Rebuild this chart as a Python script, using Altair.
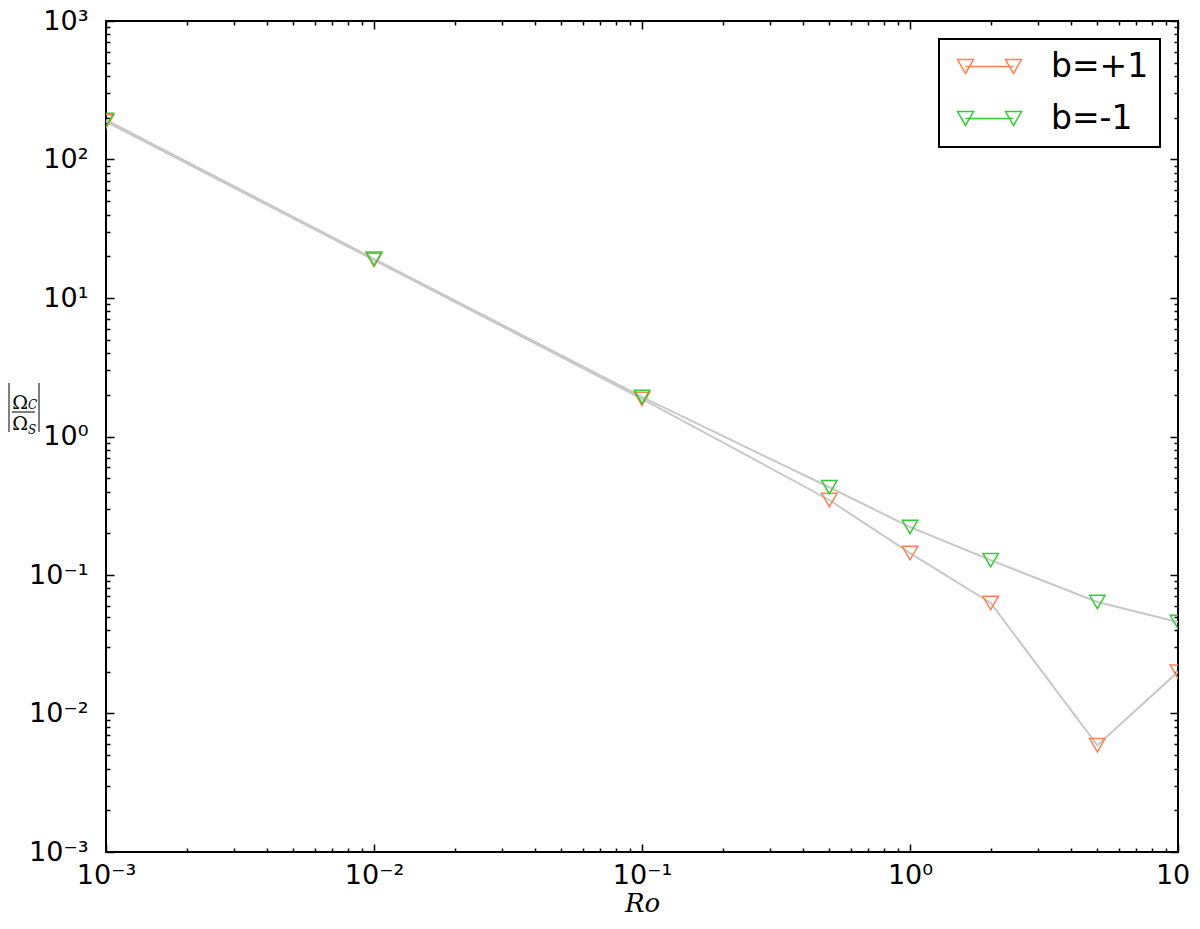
import altair as alt
import pandas as pd

# ---- data ----
ro = [0.001, 0.01, 0.1, 0.5, 1, 2, 5, 10]
b_plus = [188, 18.8, 1.87, 0.348, 0.144, 0.0628, 0.0059, 0.020]
b_minus = [193, 19.2, 1.93, 0.43, 0.222, 0.128, 0.0638, 0.0458]
series_names = ["b=+1", "b=-1"]
series_colors = ["#ff7f50", "#33cc33"]

x_decades = [1e-3, 1e-2, 1e-1, 1, 10]
y_decades = [1e-3, 1e-2, 1e-1, 1, 10, 100, 1000]
minor_mult = [2, 3, 4, 5, 6, 7, 8, 9]
x_minor = [m * d for d in x_decades[:-1] for m in minor_mult]
y_minor = [m * d for d in y_decades[:-1] for m in minor_mult]

W, H = 1072, 831

df = pd.DataFrame({
    "Ro": ro + ro,
    "val": b_plus + b_minus,
    "series": [series_names[0]] * len(ro) + [series_names[1]] * len(ro),
})

xs = alt.Scale(type="log", domain=[1e-3, 10], nice=False)
ys = alt.Scale(type="log", domain=[1e-3, 1e3], nice=False)

label_expr = ("'10' + (datum.value < 1 ? '⁻' : '') + "
              "['⁰','¹','²','³'][round(abs(log(datum.value)/LN10))]")

# label axes (no ticks)
ax_x_lab = alt.Axis(orient="bottom", values=x_decades, labelExpr=label_expr, ticks=False,
                    domain=False, grid=False, labelFont="DejaVu Sans", labelFontSize=27,
                    labelColor="black", labelPadding=10, labelFlush=False,
                    title="Ro", titleFont="DejaVu Serif", titleFontStyle="italic",
                    titleFontWeight="normal", titleFontSize=26, titleColor="black",
                    titlePadding=2)
ax_y_lab = alt.Axis(orient="left", values=y_decades, labelExpr=label_expr, ticks=False,
                    domain=False, grid=False, labelFont="DejaVu Sans", labelFontSize=27,
                    labelColor="black", labelPadding=18, labelFlush=False, title=None)


def tick_axis(orient, offset, values, size):
    return alt.Axis(orient=orient, offset=offset, values=values, tickSize=size,
                    tickColor="black", tickWidth=1.5, labels=False, domain=False,
                    grid=False, title=None)


def ghost(ax_x, ax_y):
    return alt.Chart(df).mark_point(opacity=0).encode(
        x=alt.X("Ro:Q", scale=xs, axis=ax_x),
        y=alt.Y("val:Q", scale=ys, axis=ax_y),
    )


labels_layer = ghost(ax_x_lab, ax_y_lab)
ticks_major_in = ghost(tick_axis("top", -H, x_decades, 8), tick_axis("right", -W, y_decades, 8))
ticks_minor_in = ghost(tick_axis("top", -H, x_minor, 4), tick_axis("right", -W, y_minor, 4))
ticks_major_out = ghost(tick_axis("bottom", -H, x_decades, 8), tick_axis("left", -W, y_decades, 8))
ticks_minor_out = ghost(tick_axis("bottom", -H, x_minor, 4), tick_axis("left", -W, y_minor, 4))

lines = alt.Chart(df).mark_line(color="#c8c8c8", strokeWidth=2, clip=True).encode(
    x=alt.X("Ro:Q", scale=xs, axis=None),
    y=alt.Y("val:Q", scale=ys, axis=None),
    detail="series:N",
)

legend_path = ("M-4,-0.866L-2,-0.866L-3,0.866Z M-3,0L3,0 "
               "M2,-0.866L4,-0.866L3,0.866Z")

points = alt.Chart(df).mark_point(shape="triangle-down", filled=False, size=240,
                                  strokeWidth=1.5, clip=True, opacity=1).encode(
    x=alt.X("Ro:Q", scale=xs, axis=None),
    y=alt.Y("val:Q", scale=ys, axis=None),
    color=alt.Color("series:N",
                    scale=alt.Scale(domain=series_names, range=series_colors),
                    legend=alt.Legend(title=None, orient="top-right", offset=18,
                                      symbolType=legend_path, symbolSize=256,
                                      symbolStrokeWidth=1.5, symbolFillColor="transparent",
                                      symbolOffset=23, labelOffset=45,
                                      labelFont="DejaVu Sans", labelFontSize=33,
                                      labelColor="black", rowPadding=18, padding=11,
                                      strokeColor="black", fillColor="white",
                                      labelLimit=300)),
)

# y-axis title |Ω_C / Ω_S| drawn as a small fraction
def txt(s, x, y, size, style="normal", align="center"):
    return alt.Chart(pd.DataFrame({"t": [s]})).mark_text(
        font="DejaVu Serif", fontSize=size, fontStyle=style, align=align,
        baseline="alphabetic", color="black"
    ).encode(x=alt.value(x), y=alt.value(y), text="t:N")


def rule(x, x2, y, y2):
    return alt.Chart(pd.DataFrame({"a": [0]})).mark_rule(color="black", strokeWidth=1).encode(
        x=alt.value(x), x2=alt.value(x2), y=alt.value(y), y2=alt.value(y2))


ytitle = alt.layer(
    rule(-97, -97, 362, 411),
    rule(-67, -67, 362, 411),
    rule(-94, -71, 391, 391),
    txt("Ω", -86, 388, 19),
    txt("C", -78, 388, 12, "italic", "left"),
    txt("Ω", -86, 409, 19),
    txt("S", -78, 413, 12, "italic", "left"),
)

chart = alt.layer(
    labels_layer, ticks_major_in, ticks_minor_in, ticks_major_out, ticks_minor_out,
    lines, points, ytitle,
).resolve_axis(x="independent", y="independent").properties(
    width=W, height=H,
    autosize=alt.AutoSizeParams(type="none"),
    padding={"left": 98, "top": 13, "right": 14, "bottom": 64},
).configure(
    background="white",
    view=alt.ViewConfig(stroke="black", strokeWidth=2),
    legend=alt.LegendConfig(strokeWidth=2),
)

chart.save("out.html", embed_options={"renderer": "svg", "actions": False})
